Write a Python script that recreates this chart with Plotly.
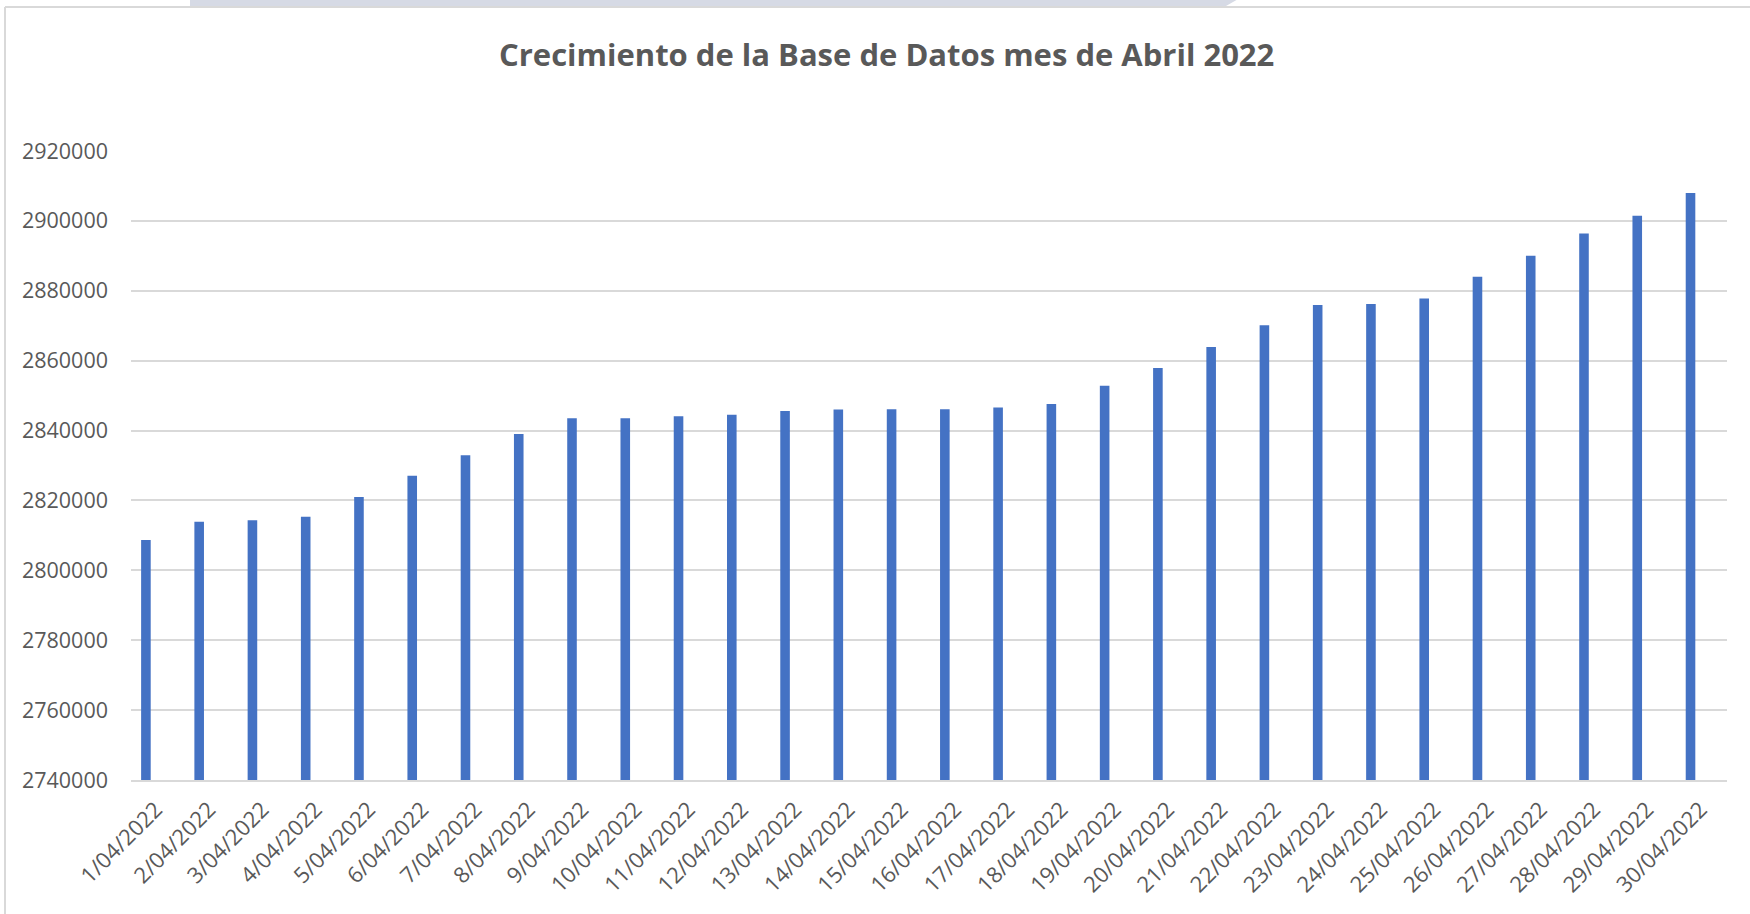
import plotly.graph_objects as go

dates = ["1/04/2022", "2/04/2022", "3/04/2022", "4/04/2022", "5/04/2022",
         "6/04/2022", "7/04/2022", "8/04/2022", "9/04/2022", "10/04/2022",
         "11/04/2022", "12/04/2022", "13/04/2022", "14/04/2022", "15/04/2022",
         "16/04/2022", "17/04/2022", "18/04/2022", "19/04/2022", "20/04/2022",
         "21/04/2022", "22/04/2022", "23/04/2022", "24/04/2022", "25/04/2022",
         "26/04/2022", "27/04/2022", "28/04/2022", "29/04/2022", "30/04/2022"]

registros = [2808700, 2813900, 2814300, 2815300, 2821000,
             2827100, 2832900, 2839000, 2843500, 2843500,
             2844100, 2844500, 2845600, 2846000, 2846100,
             2846100, 2846600, 2847600, 2852800, 2857900,
             2863900, 2870100, 2875900, 2876200, 2877800,
             2884000, 2890000, 2896400, 2901500, 2908000]

title_text = "Crecimiento de la Base de Datos mes de Abril 2022"
y_min, y_max, y_step = 2740000, 2920000, 20000

W, H = 1750, 914
ML, MR, MT, MB = 131, 23, 151, 134
PW, PH = W - ML - MR, H - MT - MB


def px(x):
    return (x - ML) / PW


def py(y):
    return (H - MB - y) / PH


fig = go.Figure()
fig.add_trace(go.Bar(x=dates, y=registros, marker=dict(color="#4472C4", line=dict(width=0)),
                     name="Registros"))

grid = "#d9d9d9"
shapes = [
    dict(type="line", xref="paper", yref="paper", x0=px(5), x1=px(1760), y0=py(7), y1=py(7),
         line=dict(color=grid, width=2)),
    dict(type="line", xref="paper", yref="paper", x0=px(5), x1=px(5), y0=py(7), y1=py(920),
         line=dict(color=grid, width=2)),
    dict(type="path", xref="paper", yref="paper",
         path=f"M {px(190)} {py(-2)} L {px(1240)} {py(-2)} L {px(1226)} {py(6)} L {px(190)} {py(6)} Z",
         fillcolor="#d6dae5", line=dict(width=0)),
]

fig.update_layout(
    width=W, height=H,
    margin=dict(l=ML, r=MR, t=MT, b=MB, autoexpand=False),
    paper_bgcolor="white", plot_bgcolor="white",
    font=dict(family="Open Sans", size=21, color="#595959"),
    bargap=0.82,
    showlegend=False,
    shapes=shapes,
    annotations=[dict(text=f"<b>{title_text}</b>", xref="paper", yref="paper",
                      x=px(886), y=py(54), xanchor="center", yanchor="middle",
                      showarrow=False, font=dict(family="Open Sans", size=31, color="#595959"))],
    xaxis=dict(tickangle=-45, showgrid=False, showline=True, linecolor=grid, linewidth=2,
               range=[-0.28, len(dates) - 1 + 0.685],
               ticks="", ticklabelstandoff=6, ticklabelshift=10,
               tickfont=dict(size=22, color="#595959")),
    yaxis=dict(range=[y_min, y_max], dtick=y_step, tick0=y_min, tickformat="d",
               showgrid=True, gridcolor=grid, gridwidth=1.5, zeroline=False,
               ticks="", ticklabelstandoff=22, tickfont=dict(size=21.5, color="#595959")),
)

fig.write_html("out.html", config={"displayModeBar": False},
               post_script="document.body.style.margin='0px';")
